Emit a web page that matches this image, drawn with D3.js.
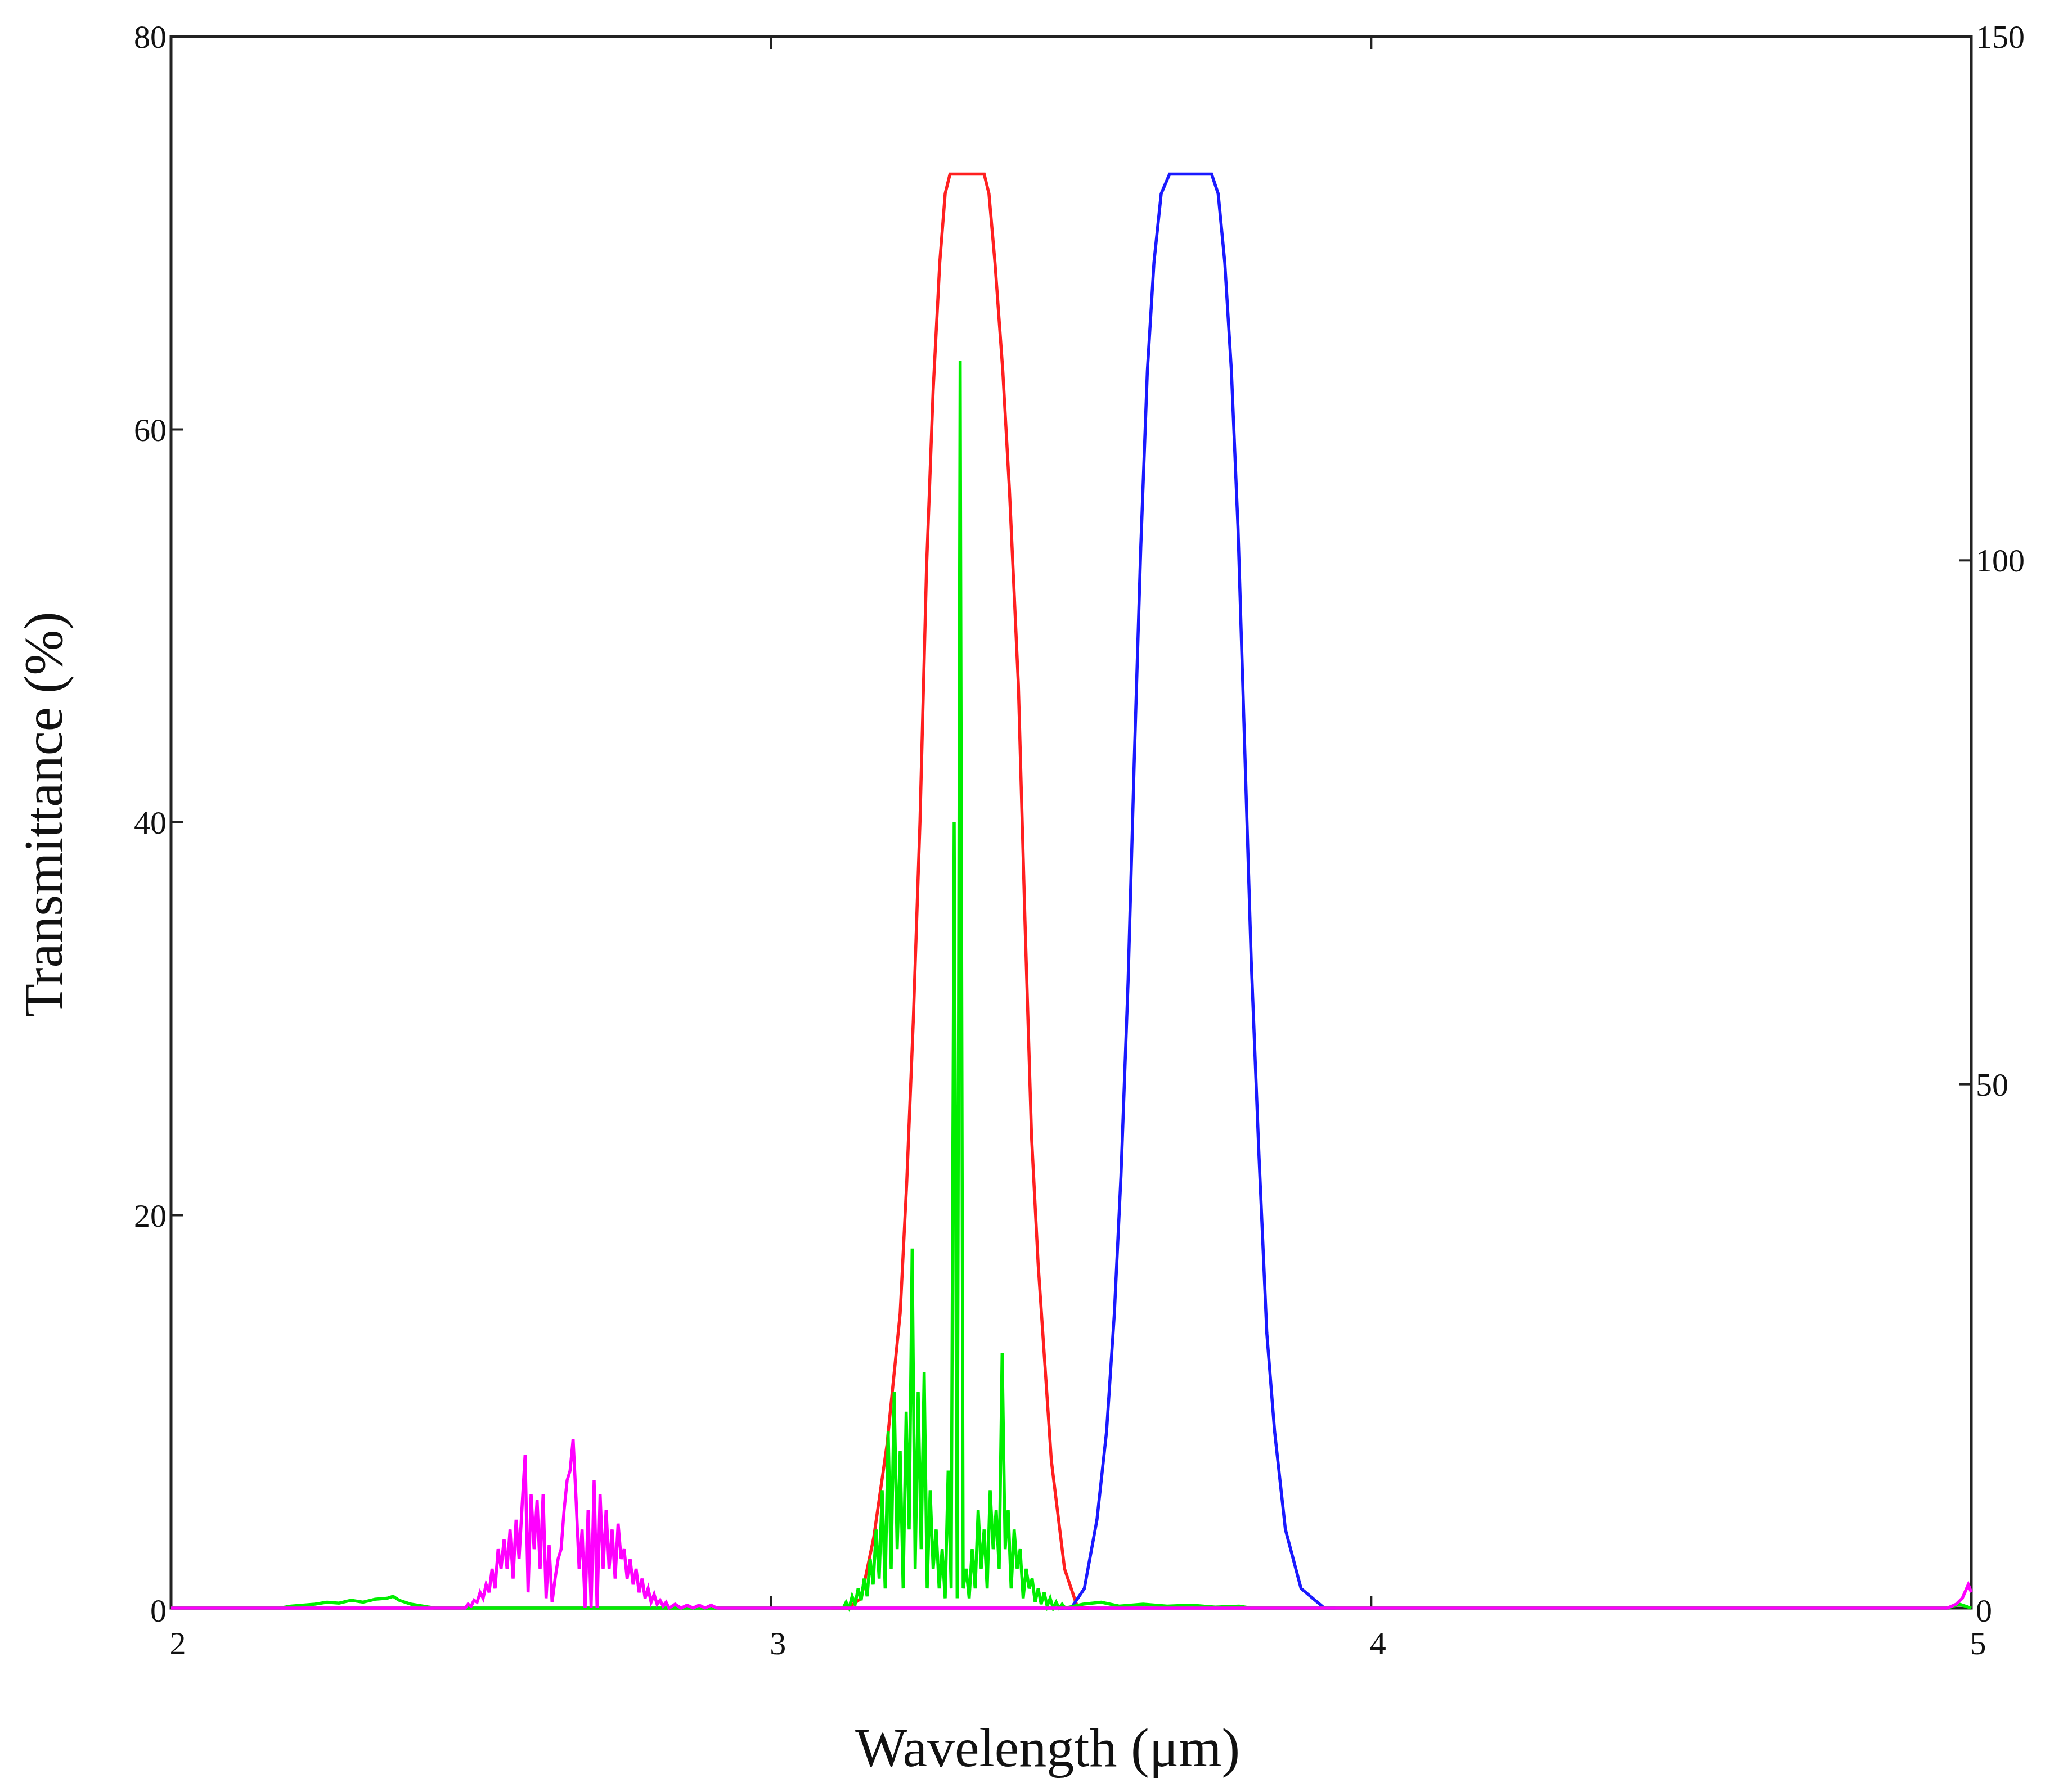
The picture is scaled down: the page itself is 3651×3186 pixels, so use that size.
<!DOCTYPE html>
<html>
<head>
<meta charset="utf-8">
<script src="https://cdn.jsdelivr.net/npm/d3@7"></script>
<style>
  body { margin: 0; background: #fff; }
  text { font-family: "Liberation Serif", "DejaVu Serif", serif; fill: #111; }
</style>
</head>
<body>
<svg id="chart" width="3651" height="3186"></svg>
<script>
// --- data (wavelength in um, transmittance in %) ---
var xTicks = [2, 3, 4, 5],
	yLeftTicks = [0, 20, 40, 60, 80],
	yRightTicks = [0, 50, 100, 150];

var redX = [3.10, 3.128, 3.150, 3.171, 3.193, 3.215, 3.226, 3.237, 3.248, 3.259, 3.270, 3.281, 3.290, 3.298, 3.355, 3.363, 3.373, 3.386, 3.397, 3.412, 3.423, 3.434, 3.445, 3.467, 3.489, 3.511, 3.53];
var redY = [0, 0, 0.5, 3.6, 8.3, 15, 21.7, 30, 40, 53, 62, 68.5, 72, 73, 73, 72, 68.5, 63, 57, 47, 35, 24, 17.5, 7.5, 2, 0, 0];

var blueX = [3.48, 3.500, 3.522, 3.543, 3.559, 3.572, 3.583, 3.595, 3.605, 3.616, 3.627, 3.638, 3.650, 3.664, 3.734, 3.745, 3.756, 3.767, 3.778, 3.789, 3.800, 3.813, 3.826, 3.839, 3.857, 3.883, 3.922, 3.94];
var blueY = [0, 0, 1, 4.5, 9, 15, 22, 32, 43, 54, 63, 68.5, 72, 73, 73, 72, 68.5, 63, 55, 44, 33, 23, 14, 9, 4, 1, 0, 0];

var greenX = [2.00, 2.18, 2.20, 2.22, 2.24, 2.26, 2.28, 2.30, 2.32, 2.34, 2.36, 2.37, 2.38, 2.40, 2.42, 2.44,
	3.120, 3.125, 3.130, 3.135, 3.140, 3.145, 3.150, 3.155, 3.160, 3.165,
	3.170, 3.175, 3.180, 3.185, 3.190, 3.195, 3.200, 3.205, 3.210, 3.215,
	3.220, 3.225, 3.230, 3.235, 3.240, 3.245, 3.250, 3.255, 3.260, 3.265,
	3.270, 3.275, 3.280, 3.285, 3.290, 3.295, 3.300, 3.305, 3.310, 3.315,
	3.320, 3.325, 3.330, 3.335, 3.340, 3.345, 3.350, 3.355, 3.360, 3.365,
	3.370, 3.375, 3.380, 3.385, 3.390, 3.395, 3.400, 3.405, 3.410, 3.415,
	3.420, 3.425, 3.430, 3.435, 3.440, 3.445, 3.450, 3.455, 3.460, 3.465,
	3.470, 3.475, 3.480, 3.485, 3.490, 3.52, 3.55, 3.58, 3.62, 3.66, 3.70, 3.74, 3.78, 3.80, 4.96, 4.98, 5.0];
var greenY = [0, 0, 0.1, 0.15, 0.2, 0.3, 0.25, 0.4, 0.3, 0.45, 0.5, 0.6, 0.4, 0.2, 0.1, 0,
	0, 0.3, 0, 0.6, 0.2, 1, 0.4, 1.5, 0.6, 2.5,
	1.2, 4, 1.5, 6, 1, 9, 2, 11, 3, 8,
	1, 10, 4, 18.3, 2, 11, 3, 12, 1, 6,
	2, 4, 1, 3, 0.5, 7, 1, 40, 0.5, 63.5,
	1, 2, 0.5, 3, 1, 5, 2, 4, 1, 6,
	3, 5, 2, 13, 3, 5, 1, 4, 2, 3,
	0.5, 2, 1, 1.5, 0.3, 1, 0.2, 0.8, 0.1, 0.5,
	0, 0.3, 0, 0.2, 0, 0.2, 0.3, 0.1, 0.2, 0.1, 0.15, 0.05, 0.1, 0, 0, 0.2, 0];

var magentaX = [2.00, 2.490, 2.495, 2.500, 2.505, 2.510, 2.515, 2.520, 2.525, 2.530, 2.535,
	2.540, 2.545, 2.550, 2.555, 2.560, 2.565, 2.570, 2.575, 2.580, 2.585,
	2.590, 2.595, 2.600, 2.605, 2.610, 2.615, 2.620, 2.625, 2.630, 2.635,
	2.640, 2.645, 2.650, 2.655, 2.660, 2.665, 2.670, 2.675, 2.680, 2.685,
	2.690, 2.695, 2.700, 2.705, 2.710, 2.715, 2.720, 2.725, 2.730, 2.735,
	2.740, 2.745, 2.750, 2.755, 2.760, 2.765, 2.770, 2.775, 2.780, 2.785,
	2.790, 2.795, 2.800, 2.805, 2.810, 2.815, 2.820, 2.825, 2.830, 2.840,
	2.850, 2.860, 2.870, 2.880, 2.890, 2.900, 2.910, 4.960, 4.975, 4.985, 4.995, 5.000];
var magentaY = [0, 0, 0.2, 0.1, 0.4, 0.3, 0.8, 0.5, 1.2, 0.8, 2,
	1, 3, 2, 3.5, 2, 4, 1.5, 4.5, 2.5, 5.2,
	7.8, 0.8, 5.8, 3, 5.5, 2, 5.8, 0.5, 3.2, 0.3,
	1.5, 2.5, 3, 5, 6.5, 7, 8.6, 5.5, 2, 4,
	0, 5, 0, 6.5, 0, 5.8, 2, 5, 2, 4,
	1.5, 4.3, 2.5, 3, 1.5, 2.5, 1.2, 2, 0.8, 1.5,
	0.5, 1, 0.3, 0.7, 0.2, 0.4, 0.1, 0.3, 0, 0.2,
	0, 0.15, 0, 0.15, 0, 0.15, 0, 0, 0.2, 0.5, 1.2, 0.8];

var series = [
	{ xs: redX, ys: redY, color: "#ff2020" },
	{ xs: blueX, ys: blueY, color: "#1a1aff" },
	{ xs: greenX, ys: greenY, color: "#00ee00" },
	{ xs: magentaX, ys: magentaY, color: "#ff00ff" }
];

(function() {
	var svg = d3.select("#chart"),
		pLeft = 304, pRight = 3504, pTop = 65, pBottom = 2859,
		tickFont = 58;

	var x = d3.scaleLinear().domain([2, 5]).range([pLeft, pRight]),
		y = d3.scaleLinear().domain([0, 80]).range([pBottom, pTop]),
		y2 = d3.scaleLinear().domain([0, 150]).range([pBottom, pTop]);

	// --- frame and inward ticks (drawn first, curves go on top) ---
	svg.append("rect")
		.attr("x", pLeft).attr("y", pTop)
		.attr("width", pRight - pLeft).attr("height", pBottom - pTop)
		.attr("fill", "none").attr("stroke", "#222").attr("stroke-width", 5);

	var tickLen = 22;
	function tick(x1, y1, x2, y2_) {
		svg.append("line").attr("x1", x1).attr("y1", y1).attr("x2", x2).attr("y2", y2_)
			.attr("stroke", "#222").attr("stroke-width", 4);
	}
	xTicks.slice(1, -1).forEach(function(t) {
		tick(x(t), pTop, x(t), pTop + tickLen);
		tick(x(t), pBottom, x(t), pBottom - tickLen);
	});
	yLeftTicks.slice(1, -1).forEach(function(t) { tick(pLeft, y(t), pLeft + tickLen, y(t)); });
	yRightTicks.slice(1, -1).forEach(function(t) { tick(pRight, y2(t), pRight - tickLen, y2(t)); });

	// --- series ---
	var line = d3.line()
		.x(function(d) { return x(d[0]); })
		.y(function(d) { return y(d[1]); });

	series.forEach(function(s) {
		svg.append("path")
			.datum(d3.zip(s.xs, s.ys))
			.attr("d", line)
			.attr("fill", "none")
			.attr("stroke", s.color)
			.attr("stroke-width", 5.5);
	});

	// --- tick labels ---
	svg.selectAll(".xl").data(xTicks).enter().append("text")
		.attr("x", function(d) { return x(d) + 12; })
		.attr("y", pBottom + 82)
		.attr("text-anchor", "middle")
		.attr("font-size", tickFont)
		.text(function(d) { return d; });

	svg.selectAll(".yl").data(yLeftTicks).enter().append("text")
		.attr("x", pLeft - 8)
		.attr("y", function(d) { return y(d) + (d === 0 ? 24 : 20); })
		.attr("text-anchor", "end")
		.attr("font-size", tickFont)
		.text(function(d) { return d; });

	svg.selectAll(".yr").data(yRightTicks).enter().append("text")
		.attr("x", pRight + 8)
		.attr("y", function(d) { return y2(d) + (d === 0 ? 24 : 20); })
		.attr("text-anchor", "start")
		.attr("font-size", tickFont)
		.text(function(d) { return d; });

	// --- axis titles ---
	svg.append("text")
		.attr("x", 1862).attr("y", 3140)
		.attr("text-anchor", "middle")
		.attr("font-size", 98)
		.text("Wavelength (μm)");

	svg.append("text")
		.attr("transform", "translate(110,1448) rotate(-90)")
		.attr("text-anchor", "middle")
		.attr("font-size", 97)
		.text("Transmittance (%)");
})();
</script>
</body>
</html>
